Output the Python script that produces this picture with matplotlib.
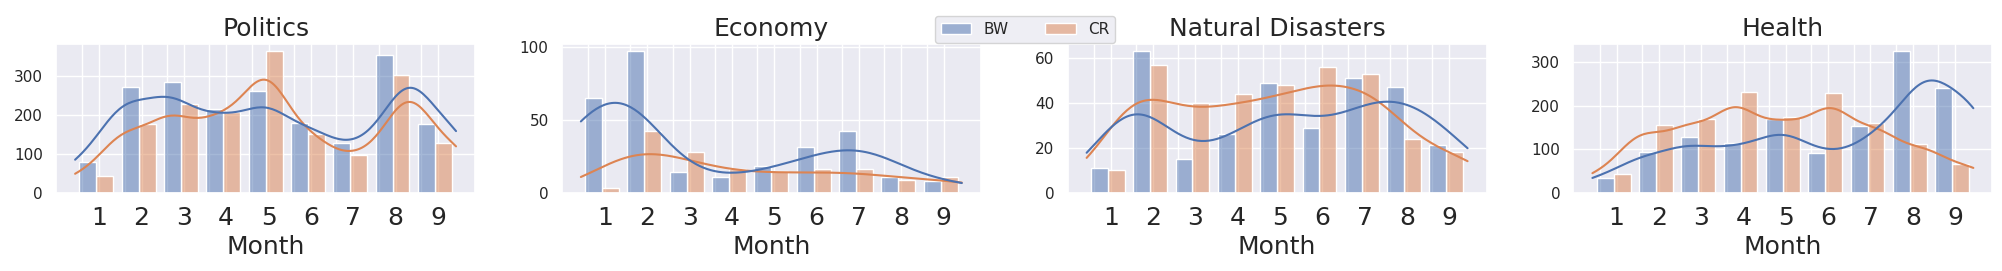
import matplotlib
matplotlib.use('Agg')
import matplotlib.pyplot as plt
import numpy as np
import pandas as pd
import seaborn as sns

months = [1, 2, 3, 4, 5, 6, 7, 8, 9]
sources = ['BW', 'CR']
topics = ['Politics', 'Economy', 'Natural Disasters', 'Health']

politics_bw = [80, 271, 285, 215, 262, 178, 127, 355, 177]
politics_cr = [44, 177, 228, 208, 364, 152, 98, 302, 127]
economy_bw = [65, 97, 14, 11, 18, 31, 42, 11, 8]
economy_cr = [3, 42, 28, 16, 15, 16, 16, 9, 11]
disasters_bw = [11, 63, 15, 26, 49, 29, 51, 47, 21]
disasters_cr = [10, 57, 40, 44, 48, 56, 53, 24, 18]
health_bw = [34, 94, 127, 113, 168, 92, 152, 325, 241]
health_cr = [42, 156, 168, 230, 174, 228, 160, 111, 65]

counts = {
    'Politics': (politics_bw, politics_cr),
    'Economy': (economy_bw, economy_cr),
    'Natural Disasters': (disasters_bw, disasters_cr),
    'Health': (health_bw, health_cr),
}

sns.set_theme()

fig, axes = plt.subplots(1, 4, figsize=(20.02, 2.71), dpi=100)
fig.subplots_adjust(left=0.028, right=0.9952, bottom=0.289, top=0.8376, wspace=0.207)

handles = None
for ax, topic in zip(axes, topics):
    bw, cr = counts[topic]
    # one row per article, as in the raw data
    df = pd.DataFrame({
        'Month': np.concatenate([np.repeat(months, bw), np.repeat(months, cr)]),
        'Source': ['BW'] * sum(bw) + ['CR'] * sum(cr),
    })
    sns.histplot(data=df, x='Month', hue='Source', hue_order=sources,
                 multiple='dodge', shrink=0.8, bins=len(months), kde=True, alpha=0.5, ax=ax)
    leg = ax.get_legend()
    if handles is None:
        handles = leg.legend_handles
    leg.remove()

    edges = np.linspace(min(months), max(months), len(months) + 1)
    bin_w = edges[1] - edges[0]
    ax.set_xticks(edges[:-1] + 0.57 * bin_w)
    ax.set_xticks(edges[:-1] + 0.17 * bin_w, minor=True)
    ax.set_xticklabels([str(m) for m in months], fontsize=18)
    ax.grid(True, which='minor', axis='x', color='white', linewidth=1)
    ax.tick_params(axis='x', which='minor', length=0)
    ax.set_title(topic, fontsize=18)
    ax.set_xlabel('Month', fontsize=18)
    ax.set_ylabel('')

fig.legend(handles, sources, loc='upper center', bbox_to_anchor=(1025 / 2002, 1 - 8 / 271),
           ncol=2, fontsize=11, columnspacing=2.4)

fig.savefig('out.png', dpi=100)
